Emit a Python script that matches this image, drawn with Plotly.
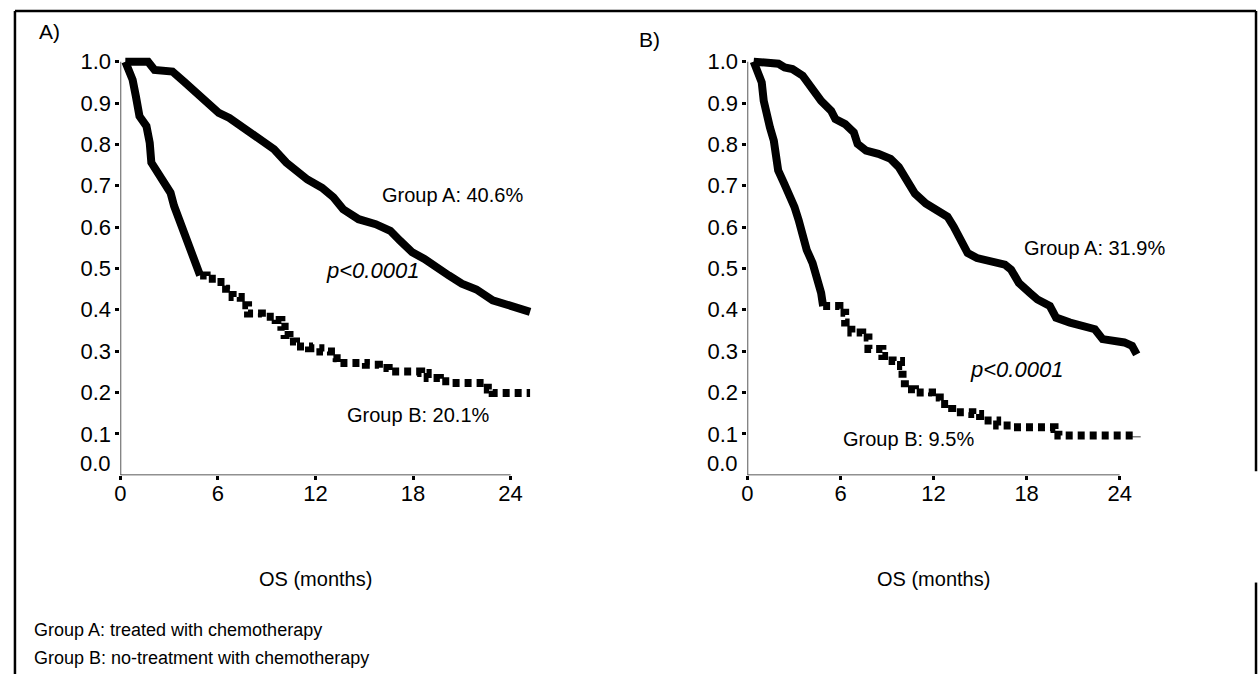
import plotly.graph_objects as go

# ---------------- data ----------------
# Panel A
a_grpA_months = [0.3, 1.7, 2.1, 3.2, 3.9, 4.7, 5.5, 6.05, 6.7, 7.65, 8.6, 9.45, 10.2, 10.8,
                 11.5, 12.4, 13.1, 13.7, 14.65, 15.7, 16.6, 17.2, 17.95, 18.7, 19.65, 20.2,
                 21.0, 21.9, 22.9, 24.0, 25.2]
a_grpA_surv = [1.0, 1.0, 0.98, 0.976, 0.952, 0.924, 0.89, 0.876, 0.864, 0.836, 0.808, 0.788,
               0.756, 0.736, 0.715, 0.695, 0.672, 0.643, 0.619, 0.607, 0.591, 0.567, 0.539,
               0.523, 0.495, 0.483, 0.463, 0.449, 0.423, 0.411, 0.395]
a_grpB_months = [0.3, 0.75, 0.95, 1.17, 1.6, 1.8, 1.9, 2.3, 2.76, 3.08, 3.3, 3.7, 4.05, 4.35,
                 4.57, 4.9, 5.3, 5.95, 6.5, 6.9, 7.4, 7.85, 8.7, 9.55, 9.9, 10.1, 10.4, 10.8,
                 11.6, 12.3, 12.95, 13.3, 14.0, 15.1, 15.9, 16.5, 17.6, 18.5, 18.9, 19.65,
                 20.4, 22.1, 22.6, 22.9, 25.2]
a_grpB_surv = [1.0, 0.956, 0.916, 0.868, 0.844, 0.804, 0.756, 0.732, 0.707, 0.683, 0.651,
               0.611, 0.579, 0.547, 0.515, 0.483, 0.475, 0.467, 0.451, 0.431, 0.411, 0.391,
               0.383, 0.375, 0.359, 0.339, 0.323, 0.311, 0.307, 0.299, 0.283, 0.271, 0.271,
               0.267, 0.259, 0.251, 0.251, 0.247, 0.235, 0.227, 0.223, 0.223, 0.207, 0.199,
               0.199]

# Panel B
b_grpA_months = [0.4, 2.0, 2.4, 2.9, 3.56, 4.2, 4.75, 5.4, 5.67, 6.3, 6.86, 7.1, 7.65, 8.44,
                 9.23, 9.76, 10.3, 10.8, 11.5, 12.1, 12.9, 13.3, 13.7, 14.2, 14.8, 15.7, 16.6,
                 17.0, 17.5, 18.2, 18.7, 19.5, 19.9, 20.8, 21.6, 22.4, 22.9, 24.3, 24.8, 25.1]
b_grpA_surv = [1.0, 0.995, 0.986, 0.982, 0.966, 0.93, 0.905, 0.881, 0.861, 0.849, 0.829,
               0.801, 0.785, 0.777, 0.765, 0.745, 0.713, 0.681, 0.657, 0.645, 0.625, 0.601,
               0.569, 0.537, 0.525, 0.517, 0.509, 0.497, 0.465, 0.441, 0.425, 0.409, 0.381,
               0.369, 0.361, 0.353, 0.329, 0.321, 0.313, 0.292]
b_grpB_months = [0.4, 0.66, 0.92, 1.05, 1.19, 1.45, 1.7, 1.85, 1.98, 2.37, 2.77, 3.03, 3.3,
                 3.56, 3.82, 4.2, 4.48, 4.75, 4.88, 5.54, 5.93, 6.3, 6.7, 7.4, 7.8, 8.7, 9.36,
                 9.9, 10.0, 10.15, 10.8, 11.9, 12.4, 13.2, 14.5, 15.0, 16.1, 17.1, 19.8, 20.05,
                 25.1]
b_grpB_surv = [1.0, 0.978, 0.95, 0.905, 0.873, 0.841, 0.809, 0.769, 0.737, 0.705, 0.673,
               0.649, 0.617, 0.577, 0.545, 0.513, 0.481, 0.441, 0.409, 0.409, 0.393, 0.369,
               0.345, 0.333, 0.305, 0.288, 0.276, 0.264, 0.232, 0.208, 0.2, 0.188, 0.172,
               0.152, 0.148, 0.132, 0.12, 0.116, 0.112, 0.096, 0.092]

x_tick_vals = [0, 6, 12, 18, 24]
x_tick_text = ["0", "6", "12", "18", "24"]
y_tick_vals = [0.1, 0.2, 0.3, 0.4, 0.5, 0.6, 0.7, 0.8, 0.9, 1.0]
y_tick_text = ["0.1", "0.2", "0.3", "0.4", "0.5", "0.6", "0.7", "0.8", "0.9", "1.0"]

panel_letters = ["A)", "B)"]
grpA_labels = ["Group A: 40.6%", "Group A: 31.9%"]
grpB_labels = ["Group B: 20.1%", "Group B: 9.5%"]
p_label = "p<0.0001"
x_title = "OS (months)"
footnotes = ["Group A: treated with chemotherapy", "Group B: no-treatment with chemotherapy"]

# ---------------- layout helpers ----------------
W, H = 1260, 674
FONT = "Liberation Sans, Arial, sans-serif"


def px(x):
    return x / W


def py(y):
    return 1 - y / H


X_MAX = 25.6
Y_MAX = 1.02
y_dom = [py(474), py(474 - 416 * Y_MAX)]
xA_dom = [px(115), px(115 + 16.333 * X_MAX)]
xB_dom = [px(745), px(745 + 15.583 * X_MAX)]

fig = go.Figure()

SPLIT = 4.9  # where group B curve turns into the broken look


def add_panel(xa, ya, tA, sA, tB, sB):
    fig.add_trace(go.Scatter(x=tA, y=sA, mode="lines", xaxis=xa, yaxis=ya,
                             line=dict(color="black", width=8), showlegend=False,
                             hoverinfo="skip"))
    early_t = [t for t in tB if t <= SPLIT]
    early_s = sB[:len(early_t)]
    late_t = tB[len(early_t) - 1:]
    late_s = sB[len(early_t) - 1:]
    fig.add_trace(go.Scatter(x=early_t, y=early_s, mode="lines", xaxis=xa, yaxis=ya,
                             line=dict(color="black", width=8),
                             showlegend=False, hoverinfo="skip"))
    fig.add_trace(go.Scatter(x=late_t, y=late_s, mode="lines", xaxis=xa, yaxis=ya,
                             line=dict(color="black", width=8, shape="hv", dash="7px,5px"),
                             showlegend=False, hoverinfo="skip"))


add_panel("x", "y", a_grpA_months, a_grpA_surv, a_grpB_months, a_grpB_surv)
add_panel("x2", "y2", b_grpA_months, b_grpA_surv, b_grpB_months, b_grpB_surv)

axis_common_x = dict(range=[0, X_MAX], tickvals=x_tick_vals, ticktext=x_tick_text,
                     ticks="outside", ticklen=4, tickwidth=3, tickcolor="black",
                     ticklabelstandoff=-6,
                     showline=False, showgrid=False, zeroline=False,
                     tickfont=dict(family=FONT, size=22, color="black"))
axis_common_y = dict(range=[0, Y_MAX], tickvals=y_tick_vals, ticktext=y_tick_text,
                     ticks="outside", ticklen=4, tickwidth=3, tickcolor="black",
                     showline=False, showgrid=False, zeroline=False, domain=y_dom,
                     tickfont=dict(family=FONT, size=22, color="black"))

fig.update_layout(
    width=W, height=H, margin=dict(l=0, r=0, t=0, b=0),
    paper_bgcolor="white", plot_bgcolor="rgba(0,0,0,0)",
    xaxis=dict(domain=xA_dom, anchor="y", **axis_common_x),
    yaxis=dict(anchor="x", **axis_common_y),
    xaxis2=dict(domain=xB_dom, anchor="y2", **axis_common_x),
    yaxis2=dict(anchor="x2", **axis_common_y),
    font=dict(family=FONT, color="black"),
)

shapes = []
for xr, yr in (("x", "y"), ("x2", "y2")):
    shapes.append(dict(type="line", xref=xr, yref=yr, x0=0, x1=24, y0=0, y1=0,
                       line=dict(color="#222", width=1.5)))
    shapes.append(dict(type="line", xref=xr, yref=yr, x0=0, x1=0, y0=0, y1=1.0,
                       line=dict(color="#222", width=1.5)))
# outer frame
frame = dict(color="black", width=2.5)
shapes += [
    dict(type="line", xref="paper", yref="paper", x0=px(9), x1=px(9), y0=py(7), y1=0, line=frame),
    dict(type="line", xref="paper", yref="paper", x0=px(9), x1=px(1256), y0=py(7), y1=py(7), line=frame),
    dict(type="line", xref="paper", yref="paper", x0=px(1256), x1=px(1256), y0=py(7), y1=py(470), line=frame),
    dict(type="line", xref="paper", yref="paper", x0=px(1256), x1=px(1256), y0=py(582), y1=0, line=frame),
]
fig.update_layout(shapes=shapes)

ann = []
lab = dict(family=FONT, size=20, color="black")
plab = dict(family=FONT, size=22, color="black")
letter_font = dict(family=FONT, size=21, color="black")
for i, (xr, yr) in enumerate((("x", "y"), ("x2", "y2"))):
    # "0.0" label sits a little above the corner
    ann.append(dict(xref=xr, yref=yr, x=0, y=0, text="0.0", showarrow=False,
                    xanchor="right", yanchor="middle", xshift=-7, yshift=12,
                    font=dict(family=FONT, size=22, color="black")))
    ann.append(dict(xref=xr, yref="paper", x=12, y=py(578), text=x_title, showarrow=False,
                    xanchor="center", yanchor="middle", font=lab))

ann += [
    dict(xref="paper", yref="paper", x=px(44), y=py(28), text=panel_letters[0], showarrow=False,
         xanchor="center", yanchor="middle", font=letter_font),
    dict(xref="paper", yref="paper", x=px(647), y=py(36), text=panel_letters[1], showarrow=False,
         xanchor="center", yanchor="middle", font=letter_font),
    dict(xref="paper", yref="paper", x=px(449), y=py(192), text=grpA_labels[0], showarrow=False,
         xanchor="center", yanchor="middle", font=lab),
    dict(xref="paper", yref="paper", x=px(414), y=py(413), text=grpB_labels[0], showarrow=False,
         xanchor="center", yanchor="middle", font=lab),
    dict(xref="paper", yref="paper", x=px(368), y=py(268), text="<i>" + p_label + "</i>",
         showarrow=False, xanchor="center", yanchor="middle", font=plab),
    dict(xref="paper", yref="paper", x=px(1094), y=py(245), text=grpA_labels[1], showarrow=False,
         xanchor="center", yanchor="middle", font=lab),
    dict(xref="paper", yref="paper", x=px(907), y=py(438), text=grpB_labels[1], showarrow=False,
         xanchor="center", yanchor="middle", font=lab),
    dict(xref="paper", yref="paper", x=px(1015), y=py(368), text="<i>" + p_label + "</i>",
         showarrow=False, xanchor="center", yanchor="middle", font=plab),
    dict(xref="paper", yref="paper", x=px(26), y=py(630), text=footnotes[0], showarrow=False,
         xanchor="left", yanchor="middle", font=dict(family=FONT, size=18, color="black")),
    dict(xref="paper", yref="paper", x=px(26), y=py(658), text=footnotes[1], showarrow=False,
         xanchor="left", yanchor="middle", font=dict(family=FONT, size=18, color="black")),
]
fig.update_layout(annotations=ann)

fig.write_html("out.html", config={"displayModeBar": False},
               post_script="document.body.style.margin='0px';")
